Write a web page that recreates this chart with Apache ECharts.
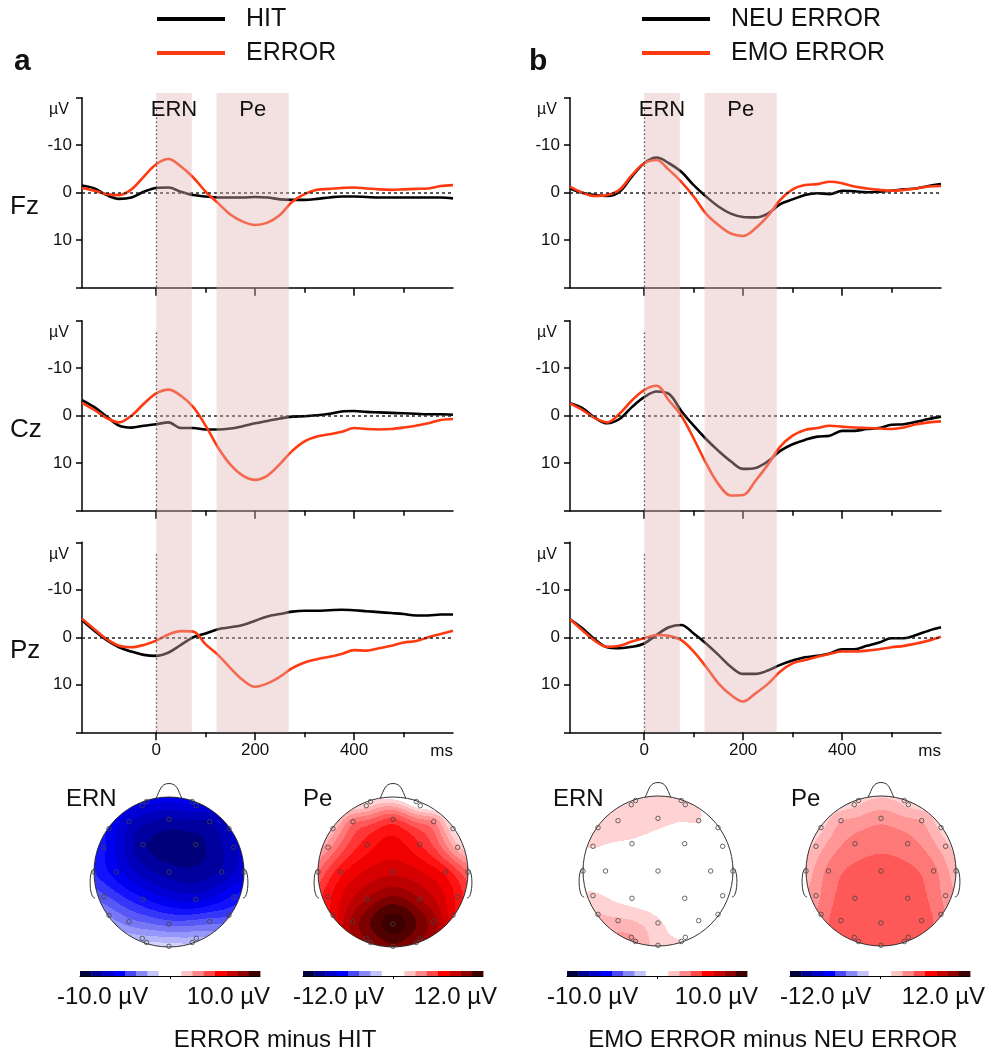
<!DOCTYPE html>
<html><head><meta charset="utf-8">
<script src="https://cdn.jsdelivr.net/npm/echarts@6/dist/echarts.min.js"></script>
<style>html,body{margin:0;padding:0;background:#fff}#c{width:987px;height:1052px}</style>
</head><body><div id="c"></div>
<script>
// ---------------- DATA ----------------
const times = [-150,-125,-100,-75,-50,-25,0,25,50,75,100,125,150,175,200,225,250,275,300,325,350,375,400,425,450,475,500,525,550,575,600];
// column a (HIT / ERROR)
const fzHit   = [-1.5,-0.9,0.5,1.3,1.0,-0.2,-1.0,-1.1,-0.2,0.5,0.8,1.0,1.0,1.0,0.9,1.0,1.4,1.5,1.5,1.3,1.0,0.8,0.8,0.9,1.0,1.0,1.0,1.0,1.0,1.0,1.2];
const fzError = [-1.0,-0.4,0.3,0.5,-0.7,-3.4,-6.0,-7.1,-5.5,-3.2,-0.2,2.2,4.6,6.1,6.8,6.3,4.7,1.9,0.3,-0.6,-0.8,-1.0,-1.1,-0.9,-0.7,-0.6,-0.7,-0.8,-0.9,-1.4,-1.6];
const czHit   = [-3.3,-1.8,0.2,2.1,2.5,2.1,1.8,1.4,2.6,2.6,2.9,2.9,2.7,2.2,1.6,1.1,0.6,0.2,0.1,-0.1,-0.4,-0.9,-1.0,-0.8,-0.7,-0.6,-0.5,-0.4,-0.3,-0.3,-0.2];
const czError = [-2.7,-1.2,0.5,1.4,0.0,-2.5,-4.7,-5.5,-4.2,-1.8,2.1,6.7,10.3,12.6,13.5,12.6,10.2,7.4,5.4,4.4,3.9,3.4,2.6,2.8,2.9,2.8,2.5,2.1,1.6,0.9,0.7];
const pzHit   = [-3.6,-1.4,0.6,2.1,3.0,3.7,3.9,3.2,1.6,0.0,-0.8,-1.7,-2.1,-2.6,-3.5,-4.4,-4.9,-5.4,-5.6,-5.6,-5.7,-5.8,-5.7,-5.5,-5.3,-5.1,-4.9,-4.6,-4.6,-4.8,-4.8];
const pzError = [-3.9,-1.7,0.4,1.8,2.1,1.6,0.7,-0.6,-1.3,-1.2,1.5,3.7,6.5,9.0,10.4,9.7,8.3,6.5,5.3,4.6,4.1,3.5,2.7,2.8,2.3,1.8,1.1,0.8,0.0,-0.7,-1.4];
// column b (NEU ERROR / EMO ERROR)
const fzNeu = [-0.9,0.0,0.5,0.7,-0.2,-3.4,-6.2,-7.4,-6.2,-4.4,-1.6,0.8,2.9,4.4,5.1,5.2,4.4,2.4,1.4,0.5,0.1,0.3,-0.4,-0.3,-0.1,-0.2,-0.4,-0.7,-0.9,-1.4,-1.8];
const fzEmo = [-1.3,0.0,0.7,0.5,-0.6,-3.7,-6.2,-6.9,-4.8,-2.3,0.8,4.4,6.8,8.6,9.1,7.5,4.9,1.5,-0.7,-1.6,-1.8,-2.3,-2.0,-1.3,-0.9,-0.6,-0.4,-0.6,-0.9,-1.3,-1.4];
const czNeu = [-2.6,-1.6,0.4,1.6,0.7,-1.8,-3.9,-5.1,-4.6,-1.0,2.1,4.9,7.4,9.6,11.2,11.0,9.6,7.4,6.0,5.1,4.4,4.2,3.2,3.2,2.8,2.6,1.9,1.8,1.3,0.7,0.2];
const czEmo = [-2.6,-1.2,0.5,1.4,-0.4,-3.2,-5.4,-6.3,-3.2,0.0,4.8,10.0,14.4,16.8,16.7,13.7,10.3,6.5,4.2,3.0,2.6,2.1,2.3,2.5,2.6,2.7,2.8,2.5,1.8,1.4,1.2];
const pzNeu = [-3.8,-1.9,0.4,2.1,2.3,2.0,1.3,-0.5,-2.1,-2.6,-0.8,1.3,3.7,6.2,7.7,7.7,7.0,5.8,4.9,4.2,3.9,3.4,2.5,2.5,1.8,1.1,0.2,0.2,-0.5,-1.4,-2.1];
const pzEmo = [-3.8,-1.5,0.7,2.0,1.8,0.9,0.2,-0.5,-0.3,0.6,3.0,6.2,9.7,12.1,13.5,11.8,9.8,7.2,5.5,4.8,4.1,3.5,3.0,3.0,2.8,2.5,2.1,1.8,1.3,0.7,-0.1];

const xTickLabels = [0,200,400];
const xMinorTicks = [100,300,500];
const yTickLabels = [-10,0,10];
const xRange = [-150,600];
const yRange = [-20,20];
const windows = [{name:'ERN', from:0, to:72},{name:'Pe', from:122, to:268}];
const rowNames = ['Fz','Cz','Pz'];

// electrode layout (unit head, y positive = posterior)
const electrodes = [
 [-0.30,-0.94],[-0.356,-0.884],[0.311,-0.94],[0.364,-0.884],
 [-0.533,-0.671],[0,-0.702],[0.542,-0.671],
 [-0.8,-0.578],[0.8,-0.578],
 [-0.867,-0.329],[-0.347,-0.364],[0.356,-0.364],[0.862,-0.329],
 [-1.0,0],[-0.7,0],[0,0],[0.702,0],[1.0,0],
 [-0.867,0.329],[-0.347,0.364],[0.356,0.364],[0.862,0.329],
 [-0.8,0.578],[0.8,0.578],
 [-0.533,0.662],[0,0.693],[0.542,0.662],
 [-0.356,0.884],[-0.30,0.94],[0.311,0.94],[0.364,0.884],
 [0,0.991]
];
// electrode amplitudes (µV) for each topographic map
const ernA = [-6,-6.2,-6,-6.3,-6.8,-7.6,-7.6,-5.8,-6.8,-5.5,-8.0,-8.3,-7,-5,-6,-7.8,-7.4,-6.5,-4.2,-5.5,-6.5,-5.5,-3.2,-4.5,-3.5,-4,-4,-2.2,-1.8,-2,-2.4,-1.5];
const peA  = [1.5,1.8,0.3,0.8,4.3,5.5,3.8,2.5,1.5,3.5,6.3,6.0,2.5,4.5,6.5,8.0,6.5,4.5,6.5,9.0,9.0,6.5,7,7,9.3,11.8,9.3,9.8,9.6,9.6,9.8,10.3];
const ernB = [1.8,1.8,1.5,1.3,1.8,1.5,1.3,1.6,0.5,1.35,1.1,0.6,0.2,0.3,0.2,0.3,0,-0.2,1.5,0.9,0.2,0,1.9,0.3,2.0,1.4,0.7,2.6,2.6,1.3,1.0,1.5];
const peB  = [2,2,2,2,3,3.5,3,2,2,2.5,4,4,2.5,2.5,4,4.8,4,2.5,3.5,5,5,3.5,4,4,5,5.1,5,4.8,4.8,4.8,4.8,4.8];
const mapRanges = [10,12,10,12];
const mapTitles = ['ERN','Pe','ERN','Pe'];
const colorbarLabels = [['-10.0 µV','10.0 µV'],['-12.0 µV','12.0 µV'],['-10.0 µV','10.0 µV'],['-12.0 µV','12.0 µV']];
const palette = ['#00003c','#000090','#0000c8','#0000ff','#4848f5','#8888f8','#c4c4fb','#ffffff','#ffffff','#ffc4c4','#ff8888','#ff4848','#ff0000','#c80000','#900000','#3c0000'];

// ---------------- STYLE / LAYOUT ----------------
const FONT = "'Liberation Sans', Arial, Helvetica, sans-serif";
const RED = '#ff3a10', BLACK = '#000000';
const cols = [
  {x:82, legendX:157, letter:'a', letterX:14, names:['HIT','ERROR'], rows:[[fzHit,fzError],[czHit,czError],[pzHit,pzError]], caption:'ERROR minus HIT', capX:275},
  {x:570, legendX:642, letter:'b', letterX:529, names:['NEU ERROR','EMO ERROR'], rows:[[fzNeu,fzEmo],[czNeu,czEmo],[pzNeu,pzEmo]], caption:'EMO ERROR minus NEU ERROR', capX:773}
];
const rowTops = [97.7,320.7,542.3], PW = 371, PH = 190;
const maps = [
  {cx:169, cy:872, vals:ernA, tx:66, bar:80, l:57, r:270},
  {cx:393, cy:872, vals:peA, tx:303, bar:303, l:293, r:497},
  {cx:658, cy:871, vals:ernB, tx:553, bar:567, l:547, r:758},
  {cx:881, cy:871, vals:peB, tx:791, bar:790, l:780, r:985}
];

// ---------------- helpers ----------------
function hex2rgb(h){return [parseInt(h.substr(1,2),16),parseInt(h.substr(3,2),16),parseInt(h.substr(5,2),16)];}
const levelColors = [];
for(let k=0;k<32;k++){
  if(k>=14&&k<=17){levelColors.push('#ffffff');continue;}
  let p=(k-0.5)/2; p=Math.max(0,Math.min(15,p));
  const i0=Math.floor(p), i1=Math.min(15,i0+1), f=p-i0;
  const a=hex2rgb(palette[i0]), b=hex2rgb(palette[i1]);
  levelColors.push('rgb('+a.map((v,j)=>Math.round(v+(b[j]-v)*f)).join(',')+')');
}
function level(v,R){let k=Math.floor((v+R)/(R/16)); return Math.max(0,Math.min(31,k));}
function makeInterp(pts, vals){
  const n=pts.length, N=n+3, M=[];
  const phi=r=>r>1e-12?r*r*Math.log(r):0;
  for(let i=0;i<N;i++) M.push(new Array(N+1).fill(0));
  for(let i=0;i<n;i++){
    for(let j=0;j<n;j++) M[i][j]=phi(Math.hypot(pts[i][0]-pts[j][0],pts[i][1]-pts[j][1]));
    M[i][i]+=0.003;
    M[i][n]=1;M[i][n+1]=pts[i][0];M[i][n+2]=pts[i][1];
    M[n][i]=1;M[n+1][i]=pts[i][0];M[n+2][i]=pts[i][1];
    M[i][N]=vals[i];
  }
  for(let c=0;c<N;c++){
    let p=c; for(let r=c+1;r<N;r++) if(Math.abs(M[r][c])>Math.abs(M[p][c])) p=r;
    const t=M[c];M[c]=M[p];M[p]=t;
    for(let r=0;r<N;r++){ if(r===c) continue; const f=M[r][c]/M[c][c]; if(!f) continue; for(let k=c;k<=N;k++) M[r][k]-=f*M[c][k]; }
  }
  const w=M.map((row,i)=>row[N]/row[i]);
  return (x,y)=>{let s=w[n]+w[n+1]*x+w[n+2]*y; for(let i=0;i<n;i++) s+=w[i]*phi(Math.hypot(x-pts[i][0],y-pts[i][1])); return s;};
}
const NROW=150, DY=2/NROW;
function buildRuns(f,R){
  const runs=[];
  for(let j=0;j<NROW;j++){
    const yc=-1+(j+0.5)*DY;
    const hw=Math.sqrt(Math.max(0,1-yc*yc)); if(hw<=0) continue;
    const nx=Math.max(2,Math.ceil(2*hw/0.005));
    let start=-hw, prev=null;
    for(let i=0;i<=nx;i++){
      const x=-hw+2*hw*i/nx, k=level(f(x,yc),R);
      if(prev===null){prev=k;continue;}
      if(k!==prev){const xb=x-hw/nx; runs.push([start,xb,yc,prev]); start=xb; prev=k;}
    }
    runs.push([start,hw,yc,prev]);
  }
  return runs;
}

// ---------------- build option ----------------
const grid=[], xAxis=[], yAxis=[], series=[], texts=[];
function addGrid(g){g.containLabel=false; g.outerBoundsMode='none'; grid.push(g); return grid.length-1;}
function hiddenAxes(gi,xmin,xmax,ymin,ymax,inv){
  xAxis.push({gridIndex:gi,type:'value',min:xmin,max:xmax,show:false});
  yAxis.push({gridIndex:gi,type:'value',min:ymin,max:ymax,show:false,inverse:!!inv});
  return [xAxis.length-1,yAxis.length-1];
}
const axisLine={show:true,onZero:false,lineStyle:{color:'#000',width:1.5}};
function txt(text,x,y,size,align,weight){texts.push({type:'text',x:x,y:y,silent:true,z:20,style:{text:text,fill:'#111',font:(weight||'normal')+' '+size+'px '+FONT,align:align||'left',verticalAlign:'middle',textAlign:align||'left',textVerticalAlign:'middle'}});}

cols.forEach((col,c)=>{
  col.rows.forEach((pair,r)=>{
    const gi=addGrid({left:col.x,top:rowTops[r],width:PW,height:PH});
    xAxis.push({gridIndex:gi,type:'value',min:xRange[0],max:xRange[1],position:'bottom',axisLine:axisLine,
      axisTick:{show:true,customValues:xTickLabels,length:8,lineStyle:{color:'#000',width:1.5}},
      axisLabel:{show:r===2,customValues:xTickLabels,fontSize:17,color:'#111',margin:10,fontFamily:FONT},splitLine:{show:false}});
    const xi=xAxis.length-1;
    xAxis.push({gridIndex:gi,type:'value',min:xRange[0],max:xRange[1],position:'bottom',axisLine:{show:false,onZero:false},
      axisTick:{show:true,customValues:xMinorTicks,length:5,lineStyle:{color:'#000',width:1.5}},axisLabel:{show:false},splitLine:{show:false}});
    yAxis.push({gridIndex:gi,type:'value',min:yRange[0],max:yRange[1],interval:10,inverse:true,axisLine:axisLine,
      axisTick:{show:true,length:6,lineStyle:{color:'#000',width:1.5}},
      axisLabel:{customValues:yTickLabels,fontSize:17,color:'#111',margin:10,fontFamily:FONT},splitLine:{show:false}});
    const yi=yAxis.length-1;
    pair.forEach((arr,s)=>{
      const color=s===0?BLACK:RED;
      const ser={type:'line',name:col.names[s],xAxisIndex:xi,yAxisIndex:yi,data:times.map((t,i)=>[t,arr[i]]),
        showSymbol:false,symbol:'none',smooth:0.35,lineStyle:{color:color,width:2.6},itemStyle:{color:color},z:3,silent:true};
      if(s===0){
        ser.markLine={silent:true,symbol:'none',label:{show:false},animation:false,
          data:[
            [{coord:[xRange[0],0],lineStyle:{type:[3,3],color:'#222',width:1.5}},{coord:[xRange[1],0]}],
            [{coord:[0,-17.5],lineStyle:{type:[1.5,2.5],color:'#222',width:1.3}},{coord:[0,yRange[1]]}]
          ]};
      }
      series.push(ser);
    });
    txt('µV',col.x-13,rowTops[r]+12,16,'right');
    if(c===0) txt(rowNames[r],10,rowTops[r]+109,26,'left');
  });
  txt('ms',col.x+PW,751,17,'right');
  // shaded analysis windows spanning the whole column, drawn over the curves
  const bg=addGrid({left:col.x,top:93,width:PW,height:rowTops[2]+PH-93});
  const [bx,by]=hiddenAxes(bg,xRange[0],xRange[1],0,1);
  series.push({type:'custom',xAxisIndex:bx,yAxisIndex:by,z:10,silent:true,clip:false,
    data:windows.map(w=>[w.from,w.to,w.name]),encode:{x:[0,1]},
    renderItem:(p,api)=>{
      const a=api.coord([api.value(0),1]), b=api.coord([api.value(1),0]);
      return {type:'rect',shape:{x:a[0],y:a[1],width:b[0]-a[0],height:b[1]-a[1]},
        style:{fill:'rgba(225,178,180,0.4)'},
        textContent:{style:{text:windows[p.dataIndex].name,fill:'#111',font:'22px '+FONT}},
        textConfig:{position:'insideTop',distance:6}};
    }});
  txt(col.letter,col.letterX,62,30,'left','bold');
  txt(col.caption,col.capX,1040,24,'center');
});

// topographic maps
maps.forEach((m,idx)=>{
  const R=mapRanges[idx];
  const gi=addGrid({left:m.cx-75,top:m.cy-75,width:150,height:150});
  const [xi,yi]=hiddenAxes(gi,-1,1,-1,1,true);
  const f=makeInterp(electrodes,m.vals);
  const runs=buildRuns(f,R);
  series.push({type:'custom',xAxisIndex:xi,yAxisIndex:yi,data:runs,encode:{x:[0,1],y:2},clip:false,silent:true,z:1,
    renderItem:(p,api)=>{
      const a=api.coord([api.value(0),api.value(2)-DY/2]), b=api.coord([api.value(1),api.value(2)+DY/2]);
      const x0=Math.round(Math.min(a[0],b[0])), x1=Math.round(Math.max(a[0],b[0]));
      const y0=Math.round(Math.min(a[1],b[1])), y1=Math.round(Math.max(a[1],b[1]));
      if(x1<=x0||y1<=y0) return null;
      return {type:'rect',shape:{x:x0,y:y0,width:x1-x0,height:y1-y0},style:{fill:levelColors[api.value(3)]}};
    }});
  series.push({type:'custom',xAxisIndex:xi,yAxisIndex:yi,data:[[0,0]],clip:false,silent:true,z:4,
    renderItem:(p,api)=>{
      const c=api.coord([0,0]), e=api.coord([1,0]), r=Math.abs(e[0]-c[0]);
      const P=(x,y)=>{const q=api.coord([x,y]);return q[0].toFixed(2)+' '+q[1].toFixed(2);};
      const st={fill:'none',stroke:'#333',lineWidth:1};
      const nose='M'+P(-0.17,-0.985)+' C'+P(-0.12,-1.09)+' '+P(-0.11,-1.18)+' '+P(0,-1.18)+' C'+P(0.11,-1.18)+' '+P(0.12,-1.09)+' '+P(0.17,-0.985);
      const earL='M'+P(-0.995,-0.04)+' C'+P(-1.075,-0.05)+' '+P(-1.07,0.36)+' '+P(-0.985,0.345);
      const earR='M'+P(0.995,-0.04)+' C'+P(1.075,-0.05)+' '+P(1.07,0.36)+' '+P(0.985,0.345);
      return {type:'group',children:[
        {type:'circle',shape:{cx:c[0],cy:c[1],r:r},style:st},
        {type:'path',shape:{pathData:nose},style:st},
        {type:'path',shape:{pathData:earL},style:st},
        {type:'path',shape:{pathData:earR},style:st}
      ]};
    }});
  series.push({type:'scatter',xAxisIndex:xi,yAxisIndex:yi,data:electrodes,symbol:'circle',symbolSize:4.5,silent:true,z:5,
    itemStyle:{color:'rgba(0,0,0,0)',borderColor:'#444',borderWidth:1}});
  txt(mapTitles[idx],m.tx,799,24,'left');
  // colorbar
  const cg=addGrid({left:m.bar,top:971,width:180,height:5});
  xAxis.push({gridIndex:cg,type:'value',min:-R,max:R,position:'bottom',axisLine:{show:true,onZero:false,lineStyle:{color:'#000',width:1}},
    axisTick:{show:true,customValues:[0],length:3,lineStyle:{color:'#000',width:1}},axisLabel:{show:false},splitLine:{show:false}});
  yAxis.push({gridIndex:cg,type:'value',min:0,max:1,show:false});
  const step=2*R/palette.length;
  series.push({type:'custom',xAxisIndex:xAxis.length-1,yAxisIndex:yAxis.length-1,silent:true,z:1,
    data:palette.map((col,i)=>[-R+i*step,-R+(i+1)*step,i]),encode:{x:[0,1]},
    renderItem:(p,api)=>{
      const a=api.coord([api.value(0),1]), b=api.coord([api.value(1),0]);
      return {type:'rect',shape:{x:a[0],y:a[1],width:b[0]-a[0]+0.4,height:b[1]-a[1]},style:{fill:palette[api.value(2)]}};
    }});
  txt(colorbarLabels[idx][0],m.l,997,24,'left');
  txt(colorbarLabels[idx][1],m.r,997,24,'right');
});

const legend=cols.map(col=>({data:col.names,left:col.legendX,top:4,orient:'vertical',icon:'rect',itemWidth:68,itemHeight:4,
  itemGap:4,padding:0,selectedMode:false,textStyle:{fontSize:25,color:'#111',lineHeight:30,fontFamily:FONT,padding:[0,0,0,16]}}));

const chart=echarts.init(document.getElementById('c'),null,{renderer:'canvas'});
chart.setOption({animation:false,backgroundColor:'#fff',textStyle:{fontFamily:FONT},
  grid:grid,xAxis:xAxis,yAxis:yAxis,series:series,legend:legend,graphic:{elements:texts}});
</script></body></html>
